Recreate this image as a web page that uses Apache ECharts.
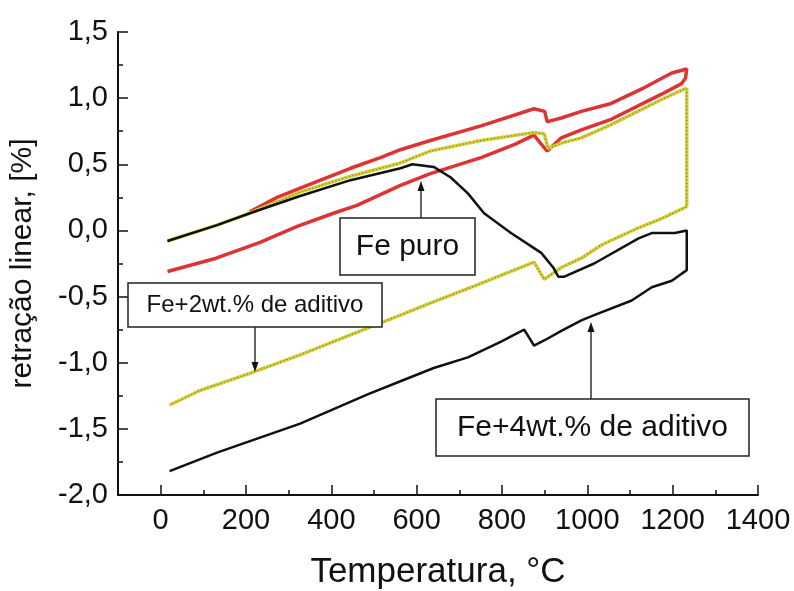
<!DOCTYPE html>
<html>
<head>
<meta charset="utf-8">
<script src="https://cdn.jsdelivr.net/npm/echarts@6/dist/echarts.min.js"></script>
<style>
  html, body { margin: 0; padding: 0; background: #fff; }
  #chart { width: 794px; height: 591px; }
</style>
</head>
<body>
<div id="chart"></div>
<script>
// curvas dilatométricas [temperatura °C, retração %]
const fePuro = [
  [16, -0.31], [130, -0.21], [233, -0.09], [320, 0.03], [405, 0.13], [460, 0.19],
  [515, 0.27], [562, 0.34], [632, 0.43], [751, 0.55], [830, 0.65], [875, 0.72],
  [890, 0.66], [906, 0.60], [939, 0.70], [986, 0.76], [1056, 0.84], [1174, 1.03],
  [1221, 1.11], [1230, 1.15], [1233, 1.22], [1198, 1.19], [1134, 1.08], [1056, 0.96],
  [986, 0.90], [939, 0.85], [915, 0.83], [906, 0.82], [900, 0.90], [875, 0.92],
  [751, 0.79], [632, 0.68], [562, 0.61], [515, 0.55], [445, 0.47], [327, 0.32],
  [273, 0.25], [209, 0.14]
]
const fe2 = [
  [16, -0.08], [132, 0.04], [209, 0.13], [327, 0.29], [445, 0.41], [562, 0.51],
  [632, 0.60], [751, 0.68], [875, 0.74], [899, 0.73], [908, 0.62], [939, 0.66],
  [986, 0.70], [1056, 0.80], [1174, 0.99], [1228, 1.07], [1233, 1.07], [1233, 0.18],
  [1174, 0.09], [1120, 0.02], [1033, -0.11], [986, -0.21], [939, -0.28], [899, -0.37],
  [875, -0.24], [751, -0.40], [632, -0.55], [562, -0.64], [515, -0.70], [445, -0.79],
  [327, -0.94], [209, -1.08], [92, -1.21], [21, -1.32]
]
const fe4 = [
  [16, -0.08], [132, 0.04], [209, 0.13], [327, 0.26], [445, 0.38], [562, 0.47],
  [590, 0.50], [640, 0.48], [680, 0.40], [720, 0.28], [758, 0.13], [821, -0.02],
  [892, -0.17], [920, -0.28], [932, -0.35], [946, -0.35], [1016, -0.25], [1120, -0.06],
  [1151, -0.02], [1205, -0.02], [1233, 0.0], [1233, -0.30], [1198, -0.38], [1151, -0.43],
  [1104, -0.53], [1016, -0.64], [986, -0.68], [939, -0.76], [900, -0.83], [875, -0.87],
  [852, -0.75], [828, -0.79], [798, -0.84], [720, -0.96], [640, -1.04], [562, -1.14],
  [485, -1.24], [327, -1.46], [132, -1.68], [21, -1.82]
]
const xMajor = [0, 200, 400, 600, 800, 1000, 1200, 1400]
const xMinor = [100, 300, 500, 700, 900, 1100, 1300]

const FONT = 'Liberation Sans, Arial, sans-serif'
const chart = echarts.init(document.getElementById('chart'))

// caixa de texto com seta
function label(x, y, w, h, text, size, ax, ay1, ay2) {
  const up = ay2 < ay1
  const hd = up ? 10 : -10
  return [
    { type: 'line', z: 10, shape: { x1: ax, y1: ay1, x2: ax, y2: ay2 + hd }, style: { stroke: '#111', lineWidth: 1.3 } },
    { type: 'polygon', z: 10, shape: { points: [[ax, ay2], [ax - 3.5, ay2 + hd], [ax + 3.5, ay2 + hd]] }, style: { fill: '#111' } },
    { type: 'rect', z: 10, shape: { x: x, y: y, width: w, height: h }, style: { fill: '#fff', stroke: '#222', lineWidth: 1.5 } },
    { type: 'text', z: 11, x: x + w / 2, y: y + h / 2, style: { text: text, fill: '#111', font: size + 'px ' + FONT, align: 'center', verticalAlign: 'middle' } }
  ]
}

const option = {
  backgroundColor: '#fff',
  animation: false,
  grid: { left: 118, right: 36, top: 32, bottom: 96, containLabel: false, outerBoundsMode: 'none' },
  xAxis: [{
    type: 'value', min: -100, max: 1400,
    name: 'Temperatura, °C', nameLocation: 'middle', nameGap: 60,
    nameTextStyle: { fontFamily: FONT, fontSize: 35, color: '#111' },
    axisLine: { onZero: false, lineStyle: { color: '#111', width: 2 } },
    axisTick: { inside: true, length: 10, lineStyle: { color: '#111', width: 1.5 }, customValues: xMajor },
    axisLabel: { customValues: xMajor, margin: 11, fontFamily: FONT, fontSize: 29, color: '#111', formatter: v => String(v) },
    splitLine: { show: false }
  }, {
    type: 'value', min: -100, max: 1400, position: 'bottom',
    axisLine: { show: false, onZero: false },
    axisTick: { inside: true, length: 5, lineStyle: { color: '#111', width: 1.5 }, customValues: xMinor },
    axisLabel: { show: false },
    splitLine: { show: false }
  }],
  yAxis: {
    type: 'value', min: -2, max: 1.5, interval: 0.5,
    name: 'retração linear, [%]', nameLocation: 'middle', nameGap: 80,
    nameTextStyle: { fontFamily: FONT, fontSize: 30, color: '#111' },
    axisLine: { show: true, onZero: false, lineStyle: { color: '#111', width: 2 } },
    axisTick: { inside: true, length: 10, lineStyle: { color: '#111', width: 1.5 } },
    minorTick: { show: true, splitNumber: 2, length: 5, lineStyle: { color: '#111', width: 1.5 } },
    axisLabel: {
      margin: 10, fontFamily: FONT, fontSize: 29, color: '#111',
      formatter: v => v.toFixed(1).replace('.', ',')
    },
    splitLine: { show: false }
  },
  series: [
    { type: 'line', data: fePuro, symbol: 'none', z: 2, lineStyle: { color: '#dd3333', width: 3.5 } },
    { type: 'line', data: fe2, symbol: 'none', z: 3, lineStyle: { color: '#d4cf3c', width: 3.5 } },
    { type: 'line', data: fe2, symbol: 'none', z: 4, lineStyle: { color: '#77731f', width: 1.2, type: [1, 2.5] } },
    { type: 'line', data: fe4, symbol: 'none', z: 5, lineStyle: { color: '#111', width: 2.5 } }
  ],
  graphic: [
    ...label(340, 218, 135, 57, 'Fe puro', 30, 421, 218, 181),
    ...label(128, 283, 254, 44, 'Fe+2wt.% de aditivo', 24, 255, 327, 372),
    ...label(436, 399, 313, 57, 'Fe+4wt.% de aditivo', 30, 591, 399, 322)
  ]
}

chart.setOption(option)
</script>
</body>
</html>
